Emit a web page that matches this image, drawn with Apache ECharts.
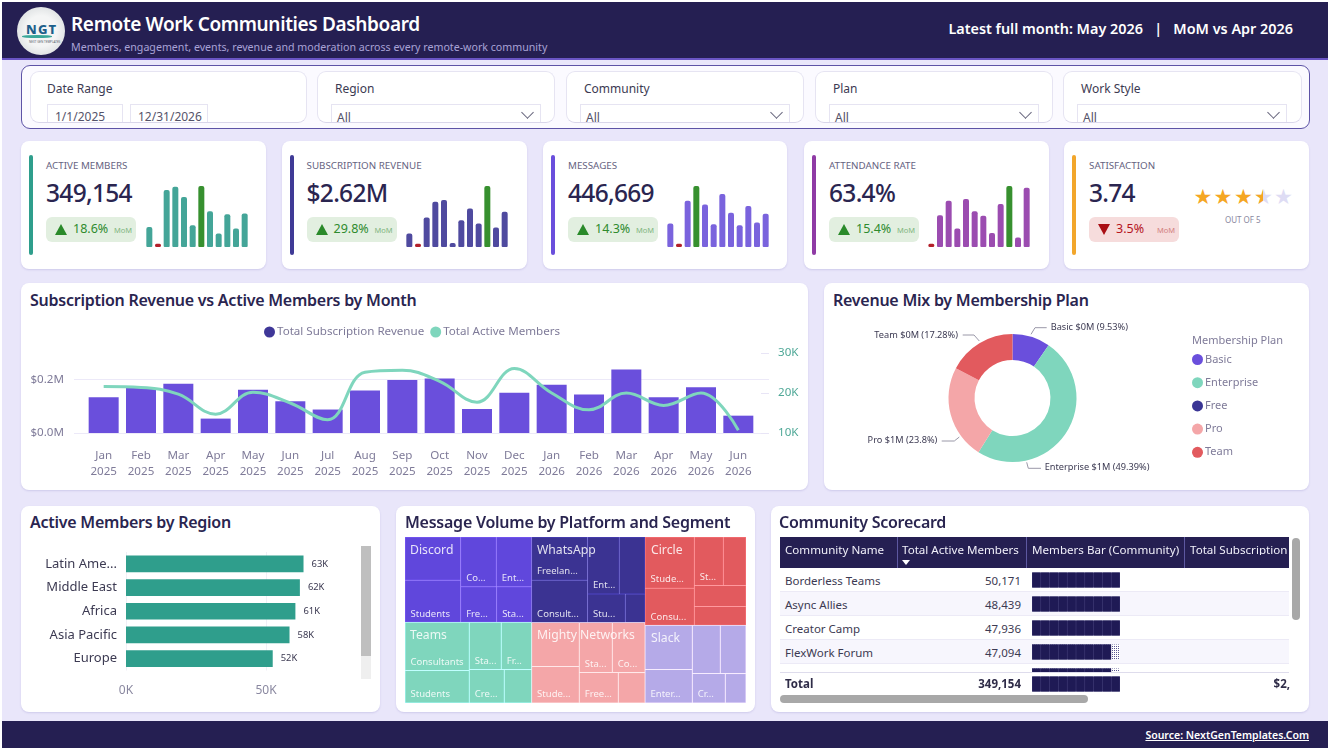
<!DOCTYPE html>
<html>
<head>
<meta charset="utf-8">
<title>Remote Work Communities Dashboard</title>
<script src="https://cdn.jsdelivr.net/npm/echarts@6/dist/echarts.min.js"></script>
<style>
html,body{margin:0;padding:0;width:1332px;height:751px;overflow:hidden;background:#fff;}
body{font-family:"Noto Sans",sans-serif;color:#2a2550;}
#page{position:absolute;left:2px;top:2px;width:1326px;height:746px;background:#e9e6fa;}
#root{position:absolute;left:0;top:0;width:1332px;height:751px;}
.abs,.panel,.txt,.fcard,.finput{position:absolute;}
.txt{white-space:nowrap;line-height:1;}
.panel{background:#fff;border-radius:8px;box-shadow:0 1px 2px rgba(90,80,170,.18);}
.fcard{top:71px;height:52px;background:#fff;border:1px solid #e6e4f2;border-bottom-color:#d9d6ea;border-radius:9px;overflow:hidden;box-sizing:border-box;}
.finput{border:1px solid #e6e4f2;height:40px;top:32px;box-sizing:border-box;}
.flabel{font-size:12px;color:#3c3a52;}
.fval{font-size:12px;color:#55536a;}
.chev{position:absolute;width:8px;height:8px;border-right:1px solid #66647c;border-bottom:1px solid #66647c;transform:rotate(45deg) scaleX(1);}
.row{position:absolute;left:780px;width:509px;height:24px;border-bottom:1px solid #eceaf6;box-sizing:border-box;}
</style>
</head>
<body>
<div id="page"></div>
<div id="root"></div>
<script>
// months on the combo chart
var monthNames = ['Jan','Feb','Mar','Apr','May','Jun','Jul','Aug','Sep','Oct','Nov','Dec','Jan','Feb','Mar','Apr','May','Jun'];
var monthYears = ['2025','2025','2025','2025','2025','2025','2025','2025','2025','2025','2025','2025','2026','2026','2026','2026','2026','2026'];
var monthRevenue = [0.134,0.169,0.185,0.054,0.162,0.119,0.088,0.159,0.199,0.204,0.090,0.151,0.181,0.144,0.238,0.134,0.172,0.065];
var monthMembers = [21.6,21.4,19.7,14.7,20.2,17.5,13.3,25.2,25.7,22.9,17.7,26.1,20.0,15.8,20.0,16.9,20.0,10.7];

// membership plan donut
var planNames = ['Basic','Enterprise','Free','Pro','Team'];
var planShare = [9.53,49.39,0,23.8,17.28];
var planDollars = ['$0M','$1M','$0M','$1M','$0M'];
var planColors = ['#6a4fdc','#7fd6bd','#3a3595','#f4a6a8','#e25a5e'];

// region bars
var regionNames = ['Latin Ame...','Middle East','Africa','Asia Pacific','Europe'];
var regionMembers = [63.4,62.1,60.5,58.4,52.4];
var regionLabels = ['63K','62K','61K','58K','52K'];

// treemap, leaf name is what fits in the cell
var discordNames = ['','Students','Co...','Ent...','Fre...','Sta...'];
var discordValues = [18958,18517,14030,13899,10074,9794];
var whatsappNames = ['Freelan...','Consult...','Ent...','','Stu...',''];
var whatsappValues = [19071,18628,14296,11587,8452,4413];
var circleNames = ['Stude...','Consu...','St...','','',''];
var circleValues = [19927,14457,11101,8677,8593,7638];
var teamsNames = ['Consultants','Students','Sta...','Fr...','Cre...',''];
var teamsValues = [24457,16474,11912,11291,9240,7216];
var mightyNames = ['','Stude...','Sta...','Co...','Free...',''];
var mightyValues = [16611,13717,13068,12936,9369,6406];
var slackNames = ['','Enter...','','','Cr...',''];
var slackValues = [16495,12496,10644,9757,7667,4801];

// scorecard
var communityNames = ['Borderless Teams','Async Allies','Creator Camp','FlexWork Forum',''];
var communityMembers = ['50,171','48,439','47,936','47,094',''];
var communityBlocks = [10,10,10,9,9];
var communityDotted = [0,0,0,10,10];
var totalMembers = '349,154';
var totalBlocks = [10];

// kpi cards
var kpiTitles = ['ACTIVE MEMBERS','SUBSCRIPTION REVENUE','MESSAGES','ATTENDANCE RATE','SATISFACTION'];
var kpiValues = ['349,154','$2.62M','446,669','63.4%','3.74'];
var kpiDeltas = ['18.6%','29.8%','14.3%','15.4%','3.5%'];
var kpiUp = [true,true,true,true,false];
var kpiColors = ['#2f9e8c','#3f3a96','#6a4fdc','#8f3aa5','#f2a62b'];
var kpiSparkColors = ['#44a598','#4f4a9f','#7a63dd','#9b4cb0'];
var kpiX = [21,281.5,543,804,1064];
var kpiW = [245,245,244,245,245];
var sparkX = [144.6,404.6,665.5,927];
var sparkActive = [60,10,170,180,149,65,182,107,40,98,55,100];
var sparkRevenue = [40,10,88,135,140,12,80,115,70,182,58,105];
var sparkMessages = [70,10,138,182,127,68,158,102,65,122,73,99];
var sparkAttendance = [10,95,138,55,143,107,93,42,128,182,28,177];
var sparkSeries = [sparkActive,sparkRevenue,sparkMessages,sparkAttendance];

var filterNames = ['Date Range','Region','Community','Plan','Work Style'];
var filterX = [30,317,566,815,1063];
var filterW = [277,238,238,238,239];

var ink = '#2a2550', soft = '#7f7b99', deep = '#251f52';
var root = document.getElementById('root');
var html = '';
var titleCss = 'font-size:16px;letter-spacing:-.25px;font-weight:600;color:' + ink;

function box(x, y, w, h, style, inner) {
    return '<div class="abs" style="left:' + x + 'px;top:' + y + 'px;width:' + w + 'px;height:' + h + 'px;' + style + '">' + (inner || '') + '</div>';
}
function text(x, y, str, style) {
    return '<div class="txt" style="left:' + x + 'px;top:' + y + 'px;' + style + '">' + str + '</div>';
}
function panel(x, y, w, h) {
    return '<div class="panel" style="left:' + x + 'px;top:' + y + 'px;width:' + w + 'px;height:' + h + 'px"></div>';
}
function holder(id, x, y, w, h) {
    return '<div id="' + id + '" class="abs" style="left:' + x + 'px;top:' + y + 'px;width:' + w + 'px;height:' + h + 'px"></div>';
}

// header
html += box(2, 2, 1326, 56, 'background:' + deep);
html += box(2, 58, 1326, 2, 'background:#6a55c4');
html += box(17, 7, 48, 48, 'border-radius:50%;background:radial-gradient(circle,#f4f5f5 45%,#cdd2d4 100%);');
html += text(26, 23, 'NGT', 'font-size:13px;font-weight:800;letter-spacing:1.2px;color:#1d5f8a');
html += box(22, 35, 30, 2.5, 'border-radius:50%;background:#3aa89a');
html += text(29, 41, 'NEXT GEN TEMPLATES', 'font-size:3px;color:#55606a');
html += text(71, 14.5, 'Remote Work Communities Dashboard', 'font-size:19px;letter-spacing:-.35px;font-weight:600;color:#fff');
html += text(71, 42, 'Members, engagement, events, revenue and moderation across every remote-work community', 'font-size:10.65px;color:#a9a3d6');
html += '<div class="txt" style="right:39px;top:22px;font-size:14.4px;font-weight:600;color:#fff">Latest full month: May 2026&nbsp;&nbsp; | &nbsp;&nbsp;MoM vs Apr 2026</div>';

// filter strip
html += box(21, 65, 1289, 64, 'box-sizing:border-box;background:#fbfaff;border:1px solid #5d53a6;border-radius:9px');
for (var f = 0; f < filterNames.length; f++) {
    var inner = text(f == 0 ? 16 : 17, 11, filterNames[f], 'position:absolute').replace('class="txt"', 'class="txt flabel"');
    if (f == 0) {
        inner += '<div class="finput" style="left:16px;width:76px"><div class="txt fval" style="left:7px;top:6px">1/1/2025</div></div>';
        inner += '<div class="finput" style="left:99px;width:78px"><div class="txt fval" style="left:7px;top:6px">12/31/2026</div></div>';
    } else {
        inner += '<div class="finput" style="left:13px;width:210px"><div class="txt fval" style="left:5px;top:7px">All</div><div class="chev" style="left:191px;top:3px"></div></div>';
    }
    html += '<div class="fcard" style="left:' + filterX[f] + 'px;width:' + filterW[f] + 'px">' + inner + '</div>';
}

// kpi cards
for (var k = 0; k < kpiTitles.length; k++) {
    var cx = kpiX[k];
    var pillX = cx + 25;
    html += panel(cx, 141, kpiW[k], 128);
    html += box(cx + 8, 155, 4, 100, 'border-radius:2px;background:' + kpiColors[k]);
    html += text(pillX, 160.5, kpiTitles[k], 'font-size:9.8px;color:#66637f');
    html += text(pillX, 180.5, kpiValues[k], 'font-size:24.5px;letter-spacing:-.7px;font-weight:500;color:' + ink);
    var pillBg = kpiUp[k] ? '#e2efe0' : '#f6dcdc';
    var pillFg = kpiUp[k] ? '#2e8b2e' : '#b5141c';
    var tri = kpiUp[k] ? 'border-bottom:11px solid #2a8a2a' : 'border-top:11px solid #a90f15';
    html += box(pillX, 217, 90, 25, 'border-radius:6px;background:' + pillBg);
    html += box(pillX + 9, 224, 0, 0, 'border-left:6.5px solid transparent;border-right:6.5px solid transparent;' + tri);
    html += text(pillX + 27, 223, kpiDeltas[k], 'font-size:12.5px;color:' + pillFg);
    html += '<div class="txt" style="left:' + (pillX + 68) + 'px;top:227px;font-size:7.5px;color:' + (kpiUp[k] ? '#7fb57f' : '#d28080') + '">MoM</div>';
    if (k < 4) {
        html += holder('spark' + k, sparkX[k], 180, 104, 67);
    }
}
// five stars, the fourth one part filled
var starX = [1193.5,1213.5,1234,1254,1274];
for (var s = 0; s < 5; s++) {
    var starBase = s < 3 ? '#f5a623' : '#dedcf4';
    html += '<div class="txt" style="left:' + starX[s] + 'px;top:186.5px;font-family:\'DejaVu Sans\';font-size:21px;color:' + starBase + '">★</div>';
    if (s == 3) {
        html += '<div class="txt" style="left:' + starX[s] + 'px;top:186.5px;width:9px;overflow:hidden;font-family:\'DejaVu Sans\';font-size:21px;color:#f5a623">★</div>';
    }
}
html += text(1225, 216, 'OUT OF 5', 'font-size:8px;color:#8a88a0');

// main panels
html += panel(21, 283, 787, 207);
html += text(30, 292, 'Subscription Revenue vs Active Members by Month', titleCss);
html += holder('combo', 21, 283, 787, 207);

html += panel(824, 283, 485, 207);
html += text(833, 292, 'Revenue Mix by Membership Plan', titleCss);
html += holder('donut', 824, 283, 485, 207);

html += panel(21, 506, 359, 206);
html += text(30, 514, 'Active Members by Region', titleCss);
html += holder('region', 21, 506, 359, 206);
html += box(361, 546, 10, 110, 'background:#bfbfbf');
html += box(361, 656, 10, 23, 'background:#efefef');

html += panel(396, 506, 359, 206);
html += text(405, 514, 'Message Volume by Platform and Segment', titleCss);
html += holder('tree', 405, 537, 341, 166);

// scorecard table
html += panel(771, 506, 538, 206);
html += text(779, 514, 'Community Scorecard', titleCss);
html += box(780, 537, 509, 31, 'background:' + deep);
var headX = [785,902,1032,1190];
var headNames = ['Community Name','Total Active Members','Members Bar (Community)','Total Subscription'];
for (var h = 0; h < headNames.length; h++) {
    html += text(headX[h], 543.5, headNames[h], 'font-size:11.6px;color:#f1f0fa;' + (h == 3 ? 'width:98px;overflow:hidden' : ''));
}
html += box(897, 537, 1, 31, 'background:#5d58a0');
html += box(1026, 537, 1, 31, 'background:#5d58a0');
html += box(1184, 537, 1, 31, 'background:#5d58a0');
html += box(902, 560, 0, 0, 'border-left:4px solid transparent;border-right:4px solid transparent;border-top:5px solid #fff');
for (var r = 0; r < 4; r++) {
    html += '<div class="row" style="top:' + (568 + r * 24) + 'px;background:' + (r % 2 ? '#f7f6fd' : '#fff') + '"></div>';
    html += text(785, 574.5 + r * 24, communityNames[r], 'font-size:11.5px;color:#3c3a52');
    html += '<div class="txt" style="right:311px;top:' + (574.5 + r * 24) + 'px;font-size:11.5px;color:#3c3a52">' + communityMembers[r] + '</div>';
}
html += holder('rowBars', 1032, 568, 88, 104);
html += box(780, 672, 509, 1, 'background:#dedcec');
html += text(785, 678, 'Total', 'font-size:11.5px;font-weight:700;color:#2f2c48');
html += '<div class="txt" style="right:311px;top:678px;font-size:11.5px;font-weight:700;color:#2f2c48">' + totalMembers + '</div>';
html += holder('totalBar', 1032, 672, 88, 24);
html += '<div class="txt" style="right:42px;top:678px;font-size:11.5px;font-weight:700;color:#2f2c48">$2,</div>';
html += box(780, 695, 308, 8, 'border-radius:4px;background:#a8a8a8');
html += box(1292, 538, 8, 82, 'border-radius:4px;background:#a8a8a8');

// footer
html += box(2, 721, 1326, 27, 'background:' + deep);
html += '<div class="txt" style="right:23px;top:730px;font-size:10.5px;font-weight:600;color:#fff;text-decoration:underline">Source: NextGenTemplates.Com</div>';
root.innerHTML = html;

// sparklines: lowest month red, highest green
for (var i = 0; i < 4; i++) {
    var sData = sparkSeries[i];
    var sMax = Math.max.apply(null, sData), sMin = Math.min.apply(null, sData);
    echarts.init(document.getElementById('spark' + i)).setOption({
        animation: false,
        grid: {left: 0, right: 0, top: 6, bottom: 0},
        xAxis: {type: 'category', show: false, data: sData.map(function (v, n) { return n; })},
        yAxis: {type: 'value', show: false, min: 0, max: 182},
        series: [{
            type: 'bar',
            barWidth: 6,
            data: sData.map(function (v) {
                var c = v == sMax ? '#37902f' : (v == sMin ? '#b3202a' : kpiSparkColors[i]);
                return {value: v, itemStyle: {color: c, borderRadius: v == sMin ? 1.5 : [2, 2, 1, 1]}};
            })
        }]
    });
}

// combo chart, first grid only carries the wide value axes
var monthCats = monthNames.map(function (m, n) { return m + '\n' + monthYears[n]; });
echarts.init(document.getElementById('combo')).setOption({
    animation: false,
    legend: {
        left: 238, top: 38, itemWidth: 11, itemHeight: 11, itemGap: 6, icon: 'circle',
        textStyle: {color: soft, fontSize: 11.6, fontFamily: 'Noto Sans', padding: [0, 0, 0, -3]},
        data: [
            {name: 'Total Subscription Revenue', itemStyle: {color: '#3f3798'}},
            {name: 'Total Active Members', itemStyle: {color: '#7fd6bd'}, lineStyle: {opacity: 0}}
        ]
    },
    grid: [
        {left: 53, top: 70, width: 695, height: 80},
        {left: 64, top: 70, width: 672, height: 80}
    ],
    xAxis: [
        {gridIndex: 0, type: 'category', show: false, data: monthCats},
        {
            gridIndex: 1, type: 'category', data: monthCats,
            axisLine: {show: false}, axisTick: {show: false},
            axisLabel: {color: soft, fontSize: 11.6, lineHeight: 16, margin: 15, interval: 0, fontFamily: 'Noto Sans'}
        }
    ],
    yAxis: [
        {
            gridIndex: 0, type: 'value', min: 0, max: 0.3, interval: 0.2,
            axisLine: {show: false}, axisTick: {show: false},
            axisLabel: {color: soft, fontSize: 11.6, margin: 10, showMaxLabel: false, fontFamily: 'Noto Sans', padding: [9, 0, 0, 0],
                formatter: function (v) { return '$' + v.toFixed(1) + 'M'; }},
            splitLine: {lineStyle: {color: '#ece9f8', width: 1}, showMaxLine: false}
        },
        {
            gridIndex: 0, type: 'value', position: 'right', min: 10, max: 30, interval: 10,
            axisLine: {show: false},
            axisTick: {show: true, inside: true, length: 8, lineStyle: {color: '#e8e5f6'}},
            axisLabel: {color: '#4fa897', fontSize: 11.6, margin: 9, formatter: '{value}K', fontFamily: 'Noto Sans', padding: [9, 0, 0, 0]},
            splitLine: {show: false}
        },
        {gridIndex: 1, type: 'value', show: false, min: 0, max: 0.3, splitLine: {show: false}},
        {gridIndex: 1, type: 'value', show: false, min: 10, max: 30, splitLine: {show: false}}
    ],
    series: [
        {
            name: 'Total Subscription Revenue', type: 'bar', xAxisIndex: 1, yAxisIndex: 2,
            barWidth: 30, itemStyle: {color: '#6a4fdc'}, data: monthRevenue
        },
        {
            name: 'Total Active Members', type: 'line', xAxisIndex: 1, yAxisIndex: 3,
            smooth: 0.4, symbol: 'none', lineStyle: {color: '#7fd6bd', width: 3},
            itemStyle: {color: '#7fd6bd'}, data: monthMembers, z: 5
        }
    ]
});

// donut labels sit where the reference has them, so they go in as graphic text
function planLabelText(idx) {
    return planNames[idx] + ' ' + planDollars[idx] + ' (' + planShare[idx] + '%)';
}
function donutLabel(idx, x, y, align, points) {
    return [
        {
            type: 'text', x: x, y: y,
            style: {text: planLabelText(idx), align: align, verticalAlign: 'middle', fill: '#3c3a52', font: '9.2px "Noto Sans"'}
        },
        {
            type: 'polyline',
            shape: {points: points},
            style: {stroke: '#9a98a8', lineWidth: 1, fill: null}
        }
    ];
}
echarts.init(document.getElementById('donut')).setOption({
    animation: false,
    title: {
        text: 'Membership Plan', left: 363, top: 47,
        textStyle: {color: soft, fontSize: 11, fontWeight: 'normal', fontFamily: 'Noto Sans'}
    },
    legend: {
        orient: 'vertical', left: 363, top: 66, icon: 'circle',
        itemWidth: 11, itemHeight: 11, itemGap: 12.2,
        textStyle: {color: soft, fontSize: 11, fontFamily: 'Noto Sans', padding: [0, 0, 0, -3]},
        data: planNames
    },
    series: [{
        type: 'pie',
        center: [188.5, 115],
        radius: [38, 64],
        startAngle: 90,
        label: {show: false},
        labelLine: {show: false},
        data: planNames.map(function (n, idx) {
            return {name: n, value: planShare[idx], itemStyle: {color: planColors[idx]}};
        })
    }],
    graphic: [].concat(
        donutLabel(0, 226.7, 44.7, 'left', [[207, 51.3], [211, 44.7], [222.7, 44.7]]),
        donutLabel(1, 220.7, 184.7, 'left', [[202.7, 179.3], [204.3, 185.3], [217, 185.3]]),
        donutLabel(3, 113.3, 157.7, 'right', [[117.7, 158], [130.3, 158], [135.3, 154]]),
        donutLabel(4, 134, 52, 'right', [[138.7, 52], [150, 52], [155.3, 58]])
    )
});

// region bars
echarts.init(document.getElementById('region')).setOption({
    animation: false,
    grid: {left: 105, top: 46, width: 210, height: 118.5},
    xAxis: {
        type: 'value', min: 0, max: 75, interval: 50,
        axisLine: {show: false}, axisTick: {show: false},
        axisLabel: {color: '#8a88a0', fontSize: 12, margin: 14, showMaxLabel: false, formatter: '{value}K', fontFamily: 'Noto Sans'},
        splitLine: {lineStyle: {color: '#f0eff6'}, showMaxLine: false}
    },
    yAxis: {
        type: 'category', inverse: true, data: regionNames,
        axisLine: {show: false}, axisTick: {show: false},
        axisLabel: {color: '#3c3a52', fontSize: 13, margin: 9, fontFamily: 'Noto Sans', padding: [8, 0, 0, 0]}
    },
    series: [{
        type: 'bar', barWidth: 16.7, itemStyle: {color: '#2f9e8c'},
        label: {
            show: true, position: 'right', distance: 8, fontSize: 9.4, color: '#3c3a52', fontFamily: 'Noto Sans',
            formatter: function (p) { return regionLabels[p.dataIndex]; }
        },
        data: regionMembers
    }]
});

// treemap
function treeGroup(name, color, names, values) {
    var tint = echarts.color.lift(color, -0.35);
    return {
        name: name,
        itemStyle: {color: color},
        children: names.map(function (n, idx) {
            return {name: n, value: values[idx], itemStyle: {color: color, borderColor: tint}};
        })
    };
}
function groupLabel(str, x, y) {
    return {
        type: 'text', left: x, top: y, z: 100,
        style: {text: str, fill: 'rgba(255,255,255,.85)', font: '12.2px "Noto Sans"'}
    };
}
echarts.init(document.getElementById('tree')).setOption({
    animation: false,
    series: [{
        type: 'treemap',
        left: 0, top: 0, right: 0, bottom: 0,
        roam: false, nodeClick: false, breadcrumb: {show: false},
        label: {
            show: true, position: 'insideBottomLeft', color: 'rgba(255,255,255,.85)',
            fontSize: 9.5, fontFamily: 'Noto Sans', distance: 0, padding: [0, 0, 3, 5],
            overflow: 'none', formatter: '{b}'
        },
        upperLabel: {show: false},
        levels: [
            {itemStyle: {borderWidth: 0, gapWidth: 0}},
            {itemStyle: {borderWidth: 0, gapWidth: 0}},
            {itemStyle: {borderWidth: 0.5, gapWidth: 0}}
        ],
        data: [
            treeGroup('Discord', '#6047dc', discordNames, discordValues),
            treeGroup('Teams', '#7fd6bd', teamsNames, teamsValues),
            treeGroup('WhatsApp', '#3b3392', whatsappNames, whatsappValues),
            treeGroup('Mighty Networks', '#f4a6a8', mightyNames, mightyValues),
            treeGroup('Circle', '#e25a5e', circleNames, circleValues),
            treeGroup('Slack', '#b5aae8', slackNames, slackValues)
        ]
    }],
    graphic: [
        groupLabel('Discord', 5, 8),
        groupLabel('WhatsApp', 132, 8),
        groupLabel('Circle', 246, 8),
        groupLabel('Teams', 5, 93),
        groupLabel('Mighty Networks', 132, 93),
        groupLabel('Slack', 246, 96)
    ]
});

// blocks in the scorecard, one mark per tenth of the largest community
function blockChart(id, blocks, dotted, rowH, rows) {
    echarts.init(document.getElementById(id)).setOption({
        animation: false,
        grid: {left: 0, top: 0, width: 88, height: rowH * rows, outerBoundsMode: 'none'},
        xAxis: {type: 'value', show: false, min: 0, max: 10},
        yAxis: {type: 'category', show: false, inverse: true, data: blocks.map(function (v, n) { return n; })},
        series: [
            {
                type: 'bar', barWidth: 15, barGap: '-100%',
                itemStyle: {
                    color: '#fff',
                    decal: {symbol: 'rect', color: '#5a5790', dashArrayX: [1, 1], dashArrayY: [1, 1], symbolSize: 1, rotation: 0}
                },
                data: dotted
            },
            {
                type: 'bar', barWidth: 15, barGap: '-100%',
                itemStyle: {color: '#4a4680'}, data: blocks
            },
            {
                type: 'pictorialBar', symbol: 'rect', symbolRepeat: true,
                symbolSize: [8.3, 15], symbolMargin: '0.25!', z: 3,
                itemStyle: {color: '#1f1a55'}, data: blocks
            }
        ]
    });
}
blockChart('rowBars', communityBlocks, communityDotted, 24, 5);
blockChart('totalBar', totalBlocks, [0], 24, 1);
</script>
</body>
</html>
